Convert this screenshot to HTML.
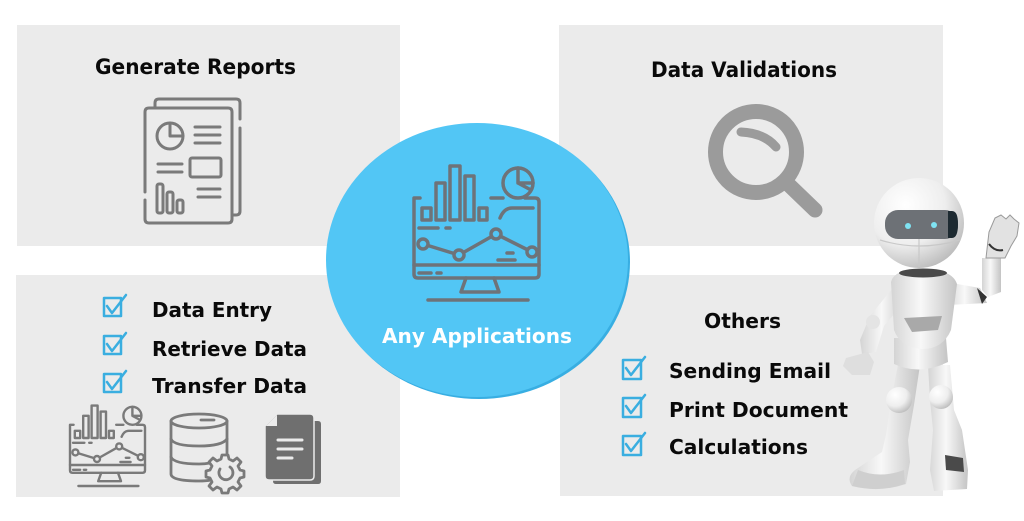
<!DOCTYPE html>
<html>
<head>
<meta charset="utf-8">
<style>
  html,body{margin:0;padding:0;background:#ffffff;}
  body{width:1024px;height:521px;overflow:hidden;}
  svg{display:block;}
  .t{font-family:"DejaVu Sans","Liberation Sans",sans-serif;font-weight:bold;fill:#0a0a0a;}
</style>
</head>
<body>
<svg width="1024" height="521" viewBox="0 0 1024 521" xmlns="http://www.w3.org/2000/svg">
  <defs>
    <radialGradient id="rw" cx="35%" cy="30%" r="80%">
      <stop offset="0" stop-color="#ffffff"/>
      <stop offset="0.55" stop-color="#eeeeee"/>
      <stop offset="1" stop-color="#b4b4b4"/>
    </radialGradient>
    <linearGradient id="lw" x1="0" y1="0" x2="1" y2="0">
      <stop offset="0" stop-color="#d4d4d4"/>
      <stop offset="0.45" stop-color="#f8f8f8"/>
      <stop offset="1" stop-color="#c4c4c4"/>
    </linearGradient>
  </defs>

  <!-- panels -->
  <rect x="17" y="25" width="383" height="221" fill="#ebebeb"/>
  <rect x="559" y="25" width="384" height="221" fill="#ebebeb"/>
  <rect x="16" y="275" width="384" height="222" fill="#ebebeb"/>
  <rect x="560" y="275" width="383" height="221" fill="#ebebeb"/>

  <!-- Generate Reports -->
  <text class="t" x="95" y="74" font-size="21" textLength="201" lengthAdjust="spacingAndGlyphs">Generate Reports</text>
  <g fill="none" stroke="#7a7a7a" stroke-width="3" stroke-linecap="round" stroke-linejoin="round">
    <path d="M155 107 V103 Q155 99 159 99 H236 Q240 99 240 103 V119 M240 128 V211 Q240 215 236 215 H232"/>
    <path d="M145 192 V112 Q145 108 149 108 H228 Q232 108 232 112 V219 Q232 223 228 223 H149 Q145 223 145 219 V200"/>
    <circle cx="170" cy="136" r="13"/>
    <path d="M170 123 V136 H183"/>
    <path d="M195 127 H220 M195 135 H220 M195 143 H220"/>
    <path d="M158 164 H182 M158 172 H182"/>
    <rect x="190" y="158" width="31" height="19" rx="2"/>
    <rect x="157" y="184" width="6" height="29" rx="2"/>
    <rect x="167" y="192" width="6" height="21" rx="2"/>
    <rect x="177" y="200" width="6" height="13" rx="2"/>
    <path d="M198 189 H220 M198 197 H220"/>
  </g>

  <!-- Data Validations -->
  <text class="t" x="651" y="77" font-size="21" textLength="186" lengthAdjust="spacingAndGlyphs">Data Validations</text>
  <g fill="none" stroke="#9b9b9b" stroke-linecap="round">
    <circle cx="756" cy="152" r="40.5" stroke-width="15"/>
    <line x1="788" y1="184" x2="815" y2="210" stroke-width="15"/>
    <path d="M741 132 Q764 133 776 147" stroke-width="9"/>
  </g>

  <!-- left bottom list -->
  <g fill="none" stroke="#3aaee0" stroke-width="2.5" stroke-linecap="round" stroke-linejoin="round">
    <rect x="104" y="298" width="17" height="18"/>
    <path d="M107 306 L112 313 L126 295"/>
    <rect x="104" y="336" width="17" height="18"/>
    <path d="M107 344 L112 351 L126 333"/>
    <rect x="104" y="374" width="17" height="18"/>
    <path d="M107 382 L112 389 L126 371"/>
  </g>
  <text class="t" x="152" y="317" font-size="20" textLength="120" lengthAdjust="spacingAndGlyphs">Data Entry</text>
  <text class="t" x="152" y="356" font-size="20" textLength="155" lengthAdjust="spacingAndGlyphs">Retrieve Data</text>
  <text class="t" x="152" y="393" font-size="20" textLength="155" lengthAdjust="spacingAndGlyphs">Transfer Data</text>

  <!-- right bottom list -->
  <text class="t" x="704" y="328" font-size="20" textLength="77" lengthAdjust="spacingAndGlyphs">Others</text>
  <g fill="none" stroke="#3aaee0" stroke-width="2.5" stroke-linecap="round" stroke-linejoin="round">
    <rect x="623" y="360" width="18" height="19"/>
    <path d="M626 368 L631 375 L645 357"/>
    <rect x="623" y="398" width="18" height="19"/>
    <path d="M626 406 L631 413 L645 395"/>
    <rect x="623" y="436" width="18" height="19"/>
    <path d="M626 444 L631 451 L645 433"/>
  </g>
  <text class="t" x="669" y="378" font-size="20" textLength="162" lengthAdjust="spacingAndGlyphs">Sending Email</text>
  <text class="t" x="669" y="417" font-size="20" textLength="179" lengthAdjust="spacingAndGlyphs">Print Document</text>
  <text class="t" x="669" y="454" font-size="20" textLength="139" lengthAdjust="spacingAndGlyphs">Calculations</text>

  <!-- central circle -->
  <ellipse cx="479" cy="262" rx="151" ry="137" fill="#38aee2"/>
  <ellipse cx="477" cy="260" rx="151" ry="137" fill="#52c6f5"/>

  <!-- monitor icon (big) -->
  <g fill="none" stroke="#6e7379" stroke-width="3.5" stroke-linecap="round" stroke-linejoin="round">
    <path d="M420 198 H414 Q414 198 414 202 V274 Q414 278 418 278 H535 Q539 278 539 274 V202 Q539 198 535 198 H525"/>
    <path d="M491 198 H503"/>
    <line x1="414" y1="265" x2="539" y2="265"/>
    <path d="M466 278 L461 292 H499 L494 278"/>
    <line x1="428" y1="300" x2="528" y2="300"/>
    <rect x="422" y="208" width="9" height="12"/>
    <rect x="436" y="183" width="9" height="37"/>
    <rect x="450" y="166" width="10" height="54"/>
    <rect x="465" y="176" width="9" height="44"/>
    <rect x="479" y="208" width="8" height="12"/>
    <circle cx="518" cy="183" r="15"/>
    <path d="M518 168 V183 L531 190 M518 183 H533"/>
    <path d="M500 218 Q504 208 512 208 H533"/>
    <path d="M419 228 H438 M446 228 H450"/>
    <polyline points="423,244 459,255 496,234 532,252"/>
    <circle cx="423" cy="244" r="5" fill="#52c6f5"/>
    <circle cx="459" cy="255" r="5" fill="#52c6f5"/>
    <circle cx="496" cy="234" r="5" fill="#52c6f5"/>
    <circle cx="532" cy="252" r="5" fill="#52c6f5"/>
    <path d="M507 253 H513 M498 260 H515"/>
    <path d="M419 273 H431 M437 273 H441"/>
  </g>
  <text x="382" y="343" font-family="DejaVu Sans, Liberation Sans, sans-serif" font-weight="bold" font-size="20" fill="#ffffff" textLength="190" lengthAdjust="spacingAndGlyphs">Any Applications</text>

  <!-- small monitor icon -->
  <g transform="translate(70,405) scale(0.6) translate(-414,-165)" fill="none" stroke="#7a7a7a" stroke-width="4" stroke-linecap="round" stroke-linejoin="round">
    <path d="M420 198 H414 Q414 198 414 202 V274 Q414 278 418 278 H535 Q539 278 539 274 V202 Q539 198 535 198 H525"/>
    <path d="M491 198 H503"/>
    <line x1="414" y1="265" x2="539" y2="265"/>
    <path d="M466 278 L461 292 H499 L494 278"/>
    <line x1="428" y1="300" x2="528" y2="300"/>
    <rect x="422" y="208" width="9" height="12"/>
    <rect x="436" y="183" width="9" height="37"/>
    <rect x="450" y="166" width="10" height="54"/>
    <rect x="465" y="176" width="9" height="44"/>
    <rect x="479" y="208" width="8" height="12"/>
    <circle cx="518" cy="183" r="15"/>
    <path d="M518 168 V183 L531 190 M518 183 H533"/>
    <path d="M500 218 Q504 208 512 208 H533"/>
    <path d="M419 228 H438 M446 228 H450"/>
    <polyline points="423,244 459,255 496,234 532,252"/>
    <circle cx="423" cy="244" r="5" fill="#ebebeb"/>
    <circle cx="459" cy="255" r="5" fill="#ebebeb"/>
    <circle cx="496" cy="234" r="5" fill="#ebebeb"/>
    <circle cx="532" cy="252" r="5" fill="#ebebeb"/>
    <path d="M507 253 H513 M498 260 H515"/>
    <path d="M419 273 H431 M437 273 H441"/>
  </g>

  <!-- database icon -->
  <g fill="none" stroke="#7a7a7a" stroke-width="2.8" stroke-linecap="round" stroke-linejoin="round">
    <ellipse cx="199" cy="421" rx="28" ry="7"/>
    <path d="M171 421 V474 Q171 481 199 481 Q206 481 211 480"/>
    <path d="M227 421 V454"/>
    <path d="M171 439 Q174 446 199 446 Q222 446 227 439"/>
    <path d="M171 457 Q174 464 199 464 Q205 464 210 463"/>
    <path d="M201 420 H214"/>
    <path d="M222 455 L228 455 L229 459 L233 461 L237 458 L241 462 L238 466 L240 470 L244 471 L244 477 L240 478 L238 482 L241 486 L237 490 L233 487 L229 489 L228 493 L222 493 L221 489 L217 487 L213 490 L209 486 L212 482 L210 478 L206 477 L206 471 L210 470 L212 466 L209 462 L213 458 L217 461 L221 459 Z" fill="#ebebeb"/>
    <path d="M230 467 A7 7 0 1 1 220 469"/>
  </g>

  <!-- document icon -->
  <g>
    <path d="M273 421 H318 Q321 421 321 424 V481 Q321 484 318 484 H276 Q273 484 273 481 Z" fill="#6f6f6f"/>
    <path d="M277 414 H310 Q314 414 314 418 V476 Q314 480 310 480 H269 Q265 480 265 476 V426 Z" fill="#6f6f6f" stroke="#ebebeb" stroke-width="1.5"/>
    <path d="M266 426 L277 426 L277 415 Z" fill="#ebebeb"/>
    <g stroke="#ebebeb" stroke-width="3" stroke-linecap="round">
      <line x1="278" y1="440" x2="302" y2="440"/>
      <line x1="278" y1="449" x2="302" y2="449"/>
      <line x1="278" y1="458" x2="292" y2="458"/>
    </g>
  </g>

  <!-- robot -->
  <g>
    <!-- legs -->
    <path d="M928 365 L950 365 L954 410 L962 430 L968 470 L967 489 L934 491 L930 470 L933 430 L930 400 Z" fill="url(#lw)"/>
    <path d="M945 455 L963 458 L964 472 L946 470 Z" fill="#4a4a4a"/>
    <circle cx="941" cy="397" r="12" fill="url(#rw)"/>
    <path d="M898 365 L920 365 L914 405 L908 440 L910 462 L906 484 Q880 493 852 486 Q845 476 858 468 L882 452 L886 435 L891 400 Z" fill="url(#lw)"/>
    <path d="M858 470 Q880 479 904 470 L905 484 Q880 493 852 486 Z" fill="#cfcfcf"/>
    <circle cx="899" cy="400" r="13" fill="url(#rw)"/>
    <!-- pelvis -->
    <path d="M894 338 H946 L948 362 Q920 376 894 364 Z" fill="url(#lw)"/>
    <!-- left arm (viewer left) -->
    <path d="M896 284 L908 298 L884 326 L876 352 L862 354 L860 340 L870 316 Z" fill="url(#lw)"/>
    <circle cx="873" cy="322" r="7" fill="#e4e4e4"/>
    <path d="M846 358 L868 352 L874 362 L870 375 L852 375 L843 366 Z" fill="#dedede"/>
    <!-- right arm raised -->
    <path d="M946 282 L980 288 L987 303 L948 305 Z" fill="url(#lw)"/>
    <path d="M977 288 L987 297 L982 304 Z" fill="#333"/>
    <path d="M982 258 L1001 258 L1001 292 L988 297 L982 290 Z" fill="url(#lw)"/>
    <path d="M986 258 L989 232 L995 218 L1001 215 L1006 219 L1010 215 L1014 219 L1019 223 L1017 236 L1011 246 L1005 258 Z" fill="#e2e2e2" stroke="#9a9a9a" stroke-width="1"/>
    <path d="M989 244 Q995 252 1003 250" stroke="#333" stroke-width="2" fill="none"/>
    <!-- torso -->
    <path d="M891 282 Q894 269 922 269 Q952 269 957 284 L951 330 Q943 349 922 349 Q900 347 894 330 Z" fill="url(#lw)"/>
    <path d="M904 318 L942 316 L938 330 L912 332 Z" fill="#a9a9a9"/>
    <ellipse cx="923" cy="273" rx="24" ry="4.5" fill="#4a4a4a"/>
    <!-- head -->
    <circle cx="919" cy="223" r="45" fill="url(#rw)"/>
    <path d="M919 239 V267 M880 240 Q919 252 960 240" stroke="#c8c8c8" stroke-width="1.2" fill="none"/>
    <rect x="885" y="210" width="73" height="29" rx="13" fill="#6d7176"/>
    <path d="M948 211 H952 Q958 211 958 224 Q958 238 952 238 H948 Z" fill="#1d2a31"/>
    <circle cx="908" cy="226" r="3" fill="#7fe3f2"/>
    <circle cx="934" cy="225" r="3" fill="#7fe3f2"/>
  </g>
</svg>
</body>
</html>
